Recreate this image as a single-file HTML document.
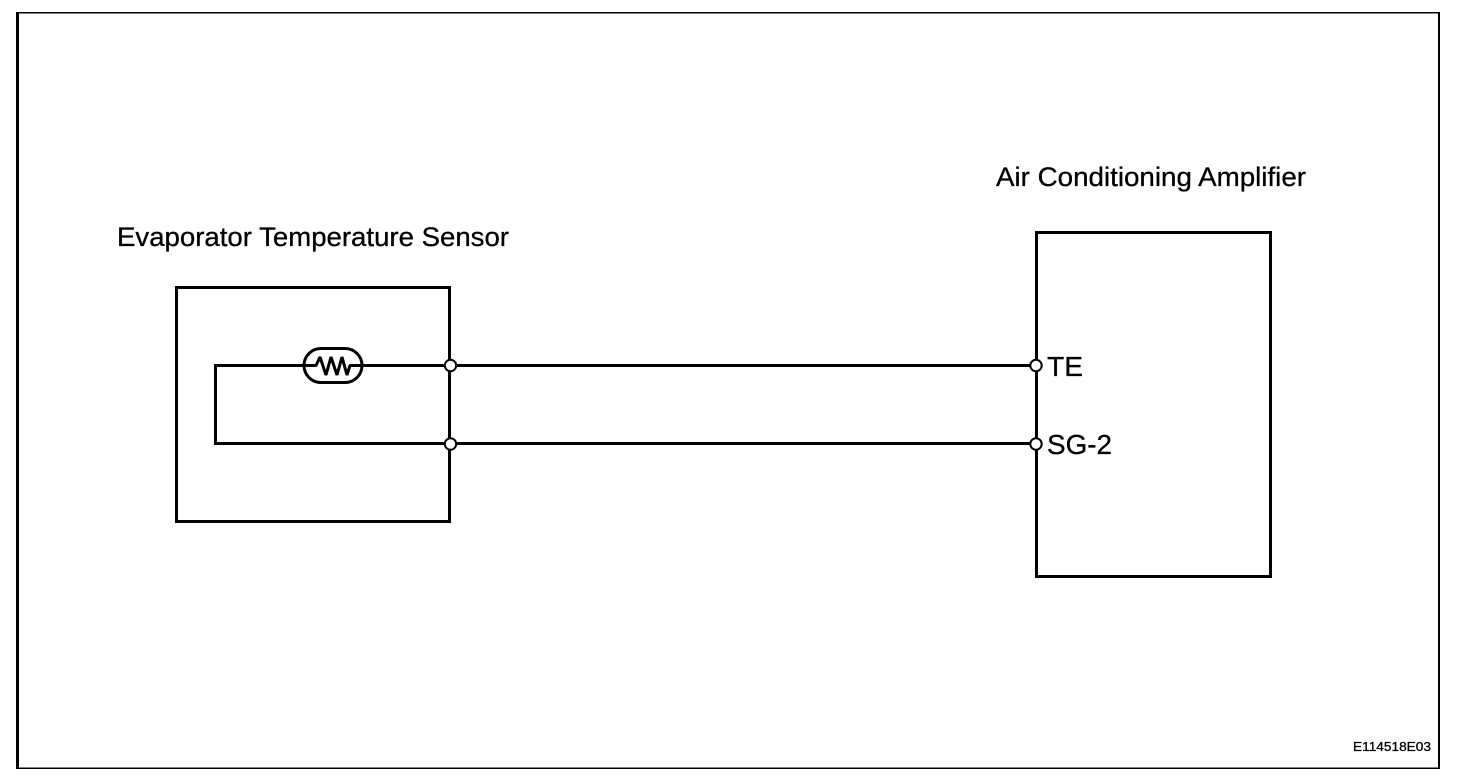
<!DOCTYPE html>
<html>
<head>
<meta charset="utf-8">
<style>
html,body{margin:0;padding:0;background:#fff;width:1472px;height:780px;overflow:hidden}
svg{display:block}
text{font-family:"Liberation Sans",Arial,sans-serif;fill:#000;stroke:#000;stroke-width:0.3}
</style>
</head>
<body>
<svg width="1472" height="780" viewBox="0 0 1472 780" xmlns="http://www.w3.org/2000/svg">
<rect x="0" y="0" width="1472" height="780" fill="#fff"/>
<g shape-rendering="crispEdges" fill="#000">
<!-- outer frame -->
<rect x="16" y="12" width="1424" height="1.5"/>
<rect x="16" y="12" width="3" height="757"/>
<rect x="1438" y="12" width="2" height="757"/>
<rect x="16" y="767.5" width="1424" height="1.5"/>
</g>
<g fill="none" stroke="#000" stroke-width="3" shape-rendering="crispEdges">
<rect x="176.500" y="287.500" width="273" height="234"/>
<rect x="1036.500" y="232.500" width="234" height="344"/>
<polyline points="303,365.500 215.500,365.500 215.500,443.500 1036,443.500"/>
<line x1="363" y1="365.500" x2="1036" y2="365.500"/>
</g>
<!-- thermistor -->
<rect x="304" y="348.500" width="58" height="34" rx="17" ry="17" fill="#fff" stroke="#000" stroke-width="3"/>
<polyline points="304,365.500 316,365.500 320,357 326,375 331,357 337,375 342,357 347,375 350,365.500 362,365.500" fill="none" stroke="#000" stroke-width="3" stroke-linejoin="bevel"/>
<!-- terminals -->
<g fill="#fff" stroke="#000" stroke-width="2">
<circle cx="450.500" cy="365.500" r="5.700"/>
<circle cx="450.500" cy="444" r="5.700"/>
<circle cx="1036" cy="365.500" r="5.700"/>
<circle cx="1036" cy="444" r="5.700"/>
</g>
<!-- labels -->
<text x="117" y="246" font-size="27" textLength="392" lengthAdjust="spacingAndGlyphs">Evaporator Temperature Sensor</text>
<text x="996" y="186" font-size="27" textLength="310" lengthAdjust="spacingAndGlyphs">Air Conditioning Amplifier</text>
<text x="1047" y="376" font-size="27.500" textLength="36" lengthAdjust="spacingAndGlyphs">TE</text>
<text x="1047" y="454" font-size="27.500" textLength="65" lengthAdjust="spacingAndGlyphs">SG-2</text>
<text x="1353" y="751" font-size="12.500" textLength="78" lengthAdjust="spacingAndGlyphs">E114518E03</text>
</svg>
</body>
</html>
